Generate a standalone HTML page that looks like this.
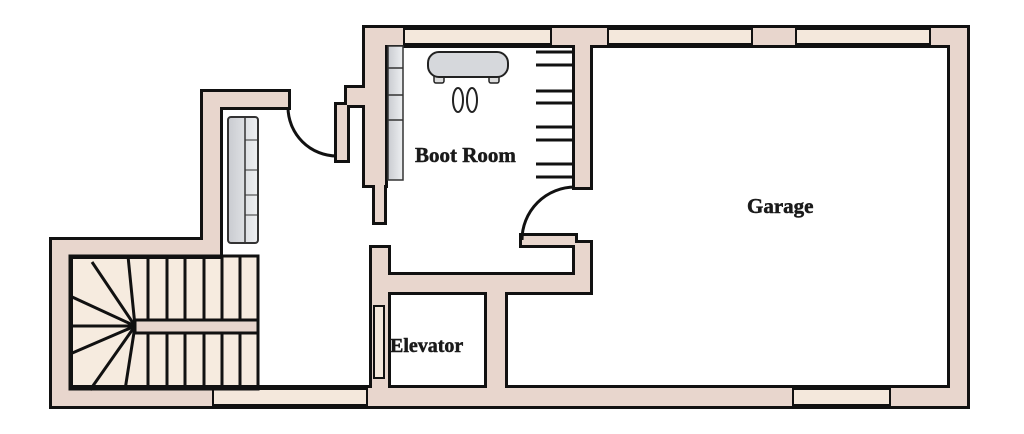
<!DOCTYPE html>
<html><head><style>html,body{margin:0;padding:0;background:#fff}svg{display:block}</style></head>
<body>
<svg width="1024" height="434" viewBox="0 0 1024 434" xmlns="http://www.w3.org/2000/svg">
<defs>
<linearGradient id="g" x1="0" x2="1"><stop offset="0" stop-color="#c9cbd0"/><stop offset="1" stop-color="#eef0f2"/></linearGradient>
<g id="walls">
<rect x="365" y="28" width="602" height="17"/>
<rect x="950" y="28" width="17" height="377"/>
<rect x="52" y="388" width="915" height="18"/>
<rect x="52" y="240" width="18" height="166"/>
<rect x="52" y="240" width="168" height="16"/>
<rect x="203" y="92" width="17" height="164"/>
<rect x="203" y="92" width="85" height="15"/>
<rect x="347" y="88" width="38" height="17"/>
<rect x="365" y="28" width="20" height="157"/>
<rect x="375" y="185" width="9" height="37"/>
<rect x="575" y="28" width="15" height="159"/>
<rect x="337" y="105" width="10" height="55"/>
<rect x="575" y="243" width="15" height="49"/>
<rect x="522" y="236" width="53" height="9"/>
<rect x="372" y="275" width="218" height="17"/>
<rect x="372" y="248" width="16" height="158"/>
<rect x="487" y="291" width="18" height="98"/>
</g>
</defs>
<rect x="70" y="256" width="188" height="134" fill="#f6ebdf"/>
<use href="#walls" fill="#e8d6cd" stroke="#111" stroke-width="6" stroke-linejoin="miter"/>
<use href="#walls" fill="#e8d6cd" stroke="none"/>
<!-- window segments -->
<g fill="#f4e8dc" stroke="#111" stroke-width="2">
<rect x="404" y="29" width="147" height="15"/>
<rect x="608" y="29" width="144" height="15"/>
<rect x="796" y="29" width="134" height="15"/>
<rect x="213" y="389" width="154" height="16"/>
<rect x="793" y="389" width="97" height="16"/>
<rect x="374" y="306" width="10" height="72"/>
</g>
<!-- doors -->
<g fill="none" stroke="#111" stroke-width="3">
<path d="M288 107 A49 49 0 0 0 337 156"/>
<path d="M575 187 A53 53 0 0 0 522 240"/>
</g>
<!-- stairs -->
<g stroke="#111" stroke-width="3" fill="none">
<line x1="148" y1="256" x2="148" y2="320"/><line x1="167" y1="256" x2="167" y2="320"/>
<line x1="185" y1="256" x2="185" y2="320"/><line x1="204" y1="256" x2="204" y2="320"/>
<line x1="222" y1="256" x2="222" y2="320"/><line x1="240" y1="256" x2="240" y2="320"/>
<line x1="148" y1="333" x2="148" y2="390"/><line x1="167" y1="333" x2="167" y2="390"/>
<line x1="185" y1="333" x2="185" y2="390"/><line x1="204" y1="333" x2="204" y2="390"/>
<line x1="222" y1="333" x2="222" y2="390"/><line x1="240" y1="333" x2="240" y2="390"/>
<line x1="135" y1="326" x2="128" y2="256"/><line x1="135" y1="326" x2="92" y2="262"/>
<line x1="135" y1="326" x2="70" y2="296"/><line x1="135" y1="326" x2="70" y2="326"/>
<line x1="135" y1="326" x2="70" y2="354"/><line x1="135" y1="326" x2="90" y2="390"/>
<line x1="135" y1="326" x2="125" y2="390"/>
<rect x="70" y="256" width="188" height="133"/>
</g>
<rect x="135" y="320" width="123" height="13" fill="#e8d6cd" stroke="#111" stroke-width="3"/>
<!-- wardrobe -->
<rect x="228" y="117" width="30" height="126" rx="3" fill="url(#g)" stroke="#333" stroke-width="2"/>
<line x1="245" y1="118" x2="245" y2="242" stroke="#333" stroke-width="1.5"/>
<g stroke="#333" stroke-width="1"><line x1="245" y1="140" x2="258" y2="140"/><line x1="245" y1="170" x2="258" y2="170"/><line x1="245" y1="195" x2="258" y2="195"/><line x1="245" y1="215" x2="258" y2="215"/></g>
<!-- boot room shelf left -->
<rect x="388" y="46" width="15" height="134" fill="url(#g)" stroke="#333" stroke-width="1.5"/>
<g stroke="#333" stroke-width="1.5"><line x1="388" y1="68" x2="403" y2="68"/><line x1="388" y1="95" x2="403" y2="95"/><line x1="388" y1="120" x2="403" y2="120"/></g>
<!-- hooks -->
<g stroke="#111" stroke-width="3">
<line x1="536" y1="52" x2="572" y2="52"/><line x1="536" y1="65" x2="572" y2="65"/>
<line x1="536" y1="91" x2="572" y2="91"/><line x1="536" y1="103" x2="572" y2="103"/>
<line x1="536" y1="127" x2="572" y2="127"/><line x1="536" y1="140" x2="572" y2="140"/>
<line x1="536" y1="164" x2="572" y2="164"/><line x1="536" y1="177" x2="572" y2="177"/>
</g>
<!-- bench -->
<rect x="434" y="74" width="10" height="9" rx="2" fill="#ddd" stroke="#222" stroke-width="1.5"/>
<rect x="489" y="74" width="10" height="9" rx="2" fill="#ddd" stroke="#222" stroke-width="1.5"/>
<rect x="428" y="52" width="80" height="25" rx="11" fill="#d6d8dc" stroke="#222" stroke-width="2"/>
<!-- shoes -->
<ellipse cx="458" cy="100" rx="5" ry="12" fill="#fff" stroke="#222" stroke-width="2"/>
<ellipse cx="472" cy="100" rx="5" ry="12" fill="#fff" stroke="#222" stroke-width="2"/>
<g font-family="'Liberation Serif',serif" font-weight="bold" fill="#1a1a1a">
<text x="415" y="162" font-size="21" stroke="#1a1a1a" stroke-width="0.5">Boot Room</text>
<text x="747" y="213" font-size="21" stroke="#1a1a1a" stroke-width="0.5">Garage</text>
<text x="390" y="352" font-size="20" stroke="#1a1a1a" stroke-width="0.5">Elevator</text>
</g>
</svg>
</body></html>
